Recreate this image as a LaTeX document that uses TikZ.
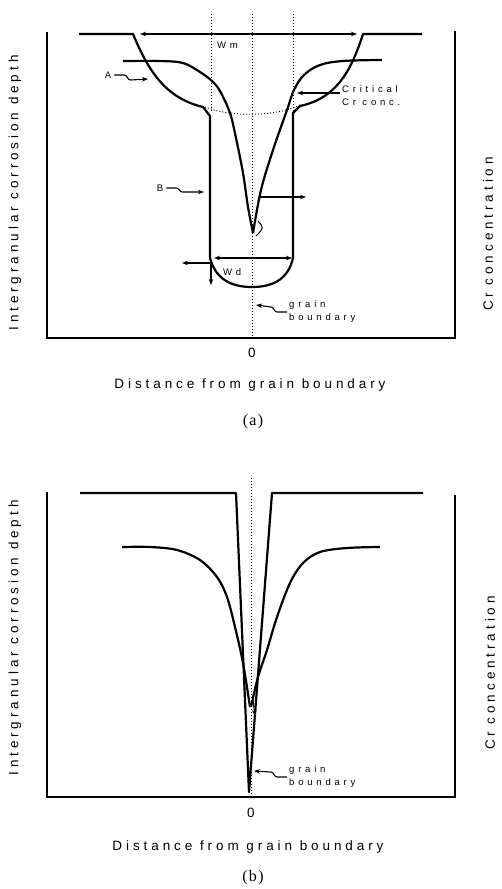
\documentclass[tikz,border=0pt]{standalone}
\usepackage{fontspec}
\setmainfont{Liberation Sans}
\newfontfamily\axisfont[LetterSpace=29]{Liberation Sans}
\newfontfamily\notefont[LetterSpace=40]{Liberation Sans}
\newfontfamily\capfont[LetterSpace=8]{Liberation Serif}
\usetikzlibrary{arrows.meta}

\tikzset{
  frame/.style={line width=1.8pt},
  curve/.style={line width=2.2pt, line join=round},
  guide/.style={line width=0.9pt, dash pattern=on 1pt off 2pt},
  pointer/.style={line width=1.1pt, -{Stealth[length=6pt,width=4.5pt]}},
  twoway/.style={line width=1.1pt, {Stealth[length=6pt,width=4.5pt]}-{Stealth[length=6pt,width=4.5pt]}},
  note/.style={font=\notefont\fontsize{9.5}{13}\selectfont, inner sep=0pt, align=left},
  axislbl/.style={font=\axisfont\fontsize{13.5}{15}\selectfont, inner sep=0pt},
  caption/.style={font=\capfont\fontsize{16}{18}\selectfont, inner sep=0pt},
}

\begin{document}
\begin{tikzpicture}[x=1pt, y=-1pt]
\useasboundingbox (0,0) rectangle (501,889);

% ---------------- (a) ----------------
\draw[frame] (47,32) -- (47,338) -- (455,338) -- (455,31);

% grain boundary and wall guides
\draw[guide] (211,14) -- (211,112);
\draw[guide] (252,14) -- (252,338);
\draw[guide] (293,14) -- (293,112);
\draw[guide] (205,107) .. controls (230,117) and (275,117) .. (300,105);

% corrosion profile (B)
\draw[curve] (79,34) -- (133,34) .. controls (148,70) and (165,98) .. (203,107)
  -- (210,116) -- (210,258) .. controls (216,280) and (232,287) .. (252,287)
  .. controls (272,287) and (288,280) .. (293,258) -- (293,113) -- (300,106)
  .. controls (338,98) and (352,68) .. (363,34) -- (422,34);

% Cr profile (A)
\draw[curve] plot[smooth, tension=0.55] coordinates {(123,61) (160,61) (183,63)
  (200,72) (212,81) (220,91) (230,113) (236,138) (243,173) (248,207) (253,233)};
\draw[curve] plot[smooth, tension=0.6] coordinates {(253,233) (261,190)
  (273,150) (287,110) (294,90) (304,75) (320,65) (343,61) (382,60)};
\draw[line width=1pt] (258,221) .. controls (264,228) .. (256,236);

% widths
\coordinate (wmL) at (140,34);
\coordinate (wmR) at (357,34);
\draw[twoway] (wmL) -- (wmR);
\node[note, anchor=west] (wm) at (217,45) {Wm};
\coordinate (wdL) at (214,258);
\coordinate (wdR) at (292,258);
\draw[twoway] (wdL) -- (wdR);
\node[note, anchor=west] (wd) at (223,272) {Wd};

% motion arrows
\coordinate (tipA) at (260,197);
\coordinate (tipAR) at (306,197);
\draw[pointer] (tipA) -- (tipAR);
\coordinate (wall) at (211,263);
\coordinate (wallL) at (182,263);
\coordinate (wallD) at (211,285);
\draw[pointer] (wall) -- (wallL);
\draw[pointer] (wall) -- (wallD);

% labels
\node[note] (lblA) at (108,75) {A};
\coordinate (ptA) at (148,79);
\draw[pointer] ([xshift=3pt]lblA.east) -- ++(10,0) to[out=0,in=180] ++(6,5) -- (ptA);
\node[note] (lblB) at (160,188) {B};
\coordinate (ptB) at (204,192);
\draw[pointer] ([xshift=3pt]lblB.east) -- ++(10,0) to[out=0,in=180] ++(6,4) -- (ptB);
\node[note, anchor=west] (crit) at (342,96) {Critical\\Cr conc.};
\coordinate (critpt) at (297,93);
\draw[pointer] ([xshift=-2pt]crit.west |- critpt) -- (critpt);
\node[note, anchor=west] (gbA) at (289,312) {grain\\boundary};
\coordinate (gbptA) at (256,305);
\draw[pointer] ([xshift=-2pt]gbA.west) -- ++(-10,0) to[out=180,in=0] ++(-6,-5) -- (gbptA);

% axes text
\node[axislbl] (zeroA) at (252,353) {0};
\node[axislbl] (distA) at (250,385) {Distance from grain boundary};
\node[caption] (capA) at (253,422) {(a)};
\node[axislbl, rotate=90] (depthA) at (15,193) {Intergranular corrosion depth};
\node[axislbl, rotate=90] (crA) at (488,234) {Cr concentration};

% ---------------- (b) ----------------
\draw[frame] (47,492) -- (47,797) -- (455,797) -- (455,495);
\draw[guide] (251,478) -- (251,797);

% corrosion profile
\draw[curve] (80,493) -- (236,493) -- (249,792) -- (272,493) -- (423,493);

% Cr profile
\draw[curve] plot[smooth, tension=0.55] coordinates {(122,547) (150,547) (177,550)
  (200,560) (217,577) (227,597) (235,627) (243,663) (250,707)};
\draw[curve] plot[smooth, tension=0.55] coordinates {(251,707) (258,677) (267,650)
  (277,617) (290,583) (303,563) (320,552) (347,548) (380,547)};
\coordinate (tipB) at (253,700);
\coordinate (tipBD) at (255,716);
\draw[pointer] (tipB) -- (tipBD);

\node[note, anchor=west] (gbB) at (289,777) {grain\\boundary};
\coordinate (gbptB) at (254,771);
\draw[pointer] ([xshift=-2pt]gbB.west) -- ++(-10,0) to[out=180,in=0] ++(-6,-5) -- (gbptB);

\node[axislbl] (zeroB) at (251,813) {0};
\node[axislbl] (distB) at (248,847) {Distance from grain boundary};
\node[caption] (capB) at (253,878) {(b)};
\node[axislbl, rotate=90] (depthB) at (15,638) {Intergranular corrosion depth};
\node[axislbl, rotate=90] (crB) at (490,673) {Cr concentration};
\end{tikzpicture}
\end{document}
